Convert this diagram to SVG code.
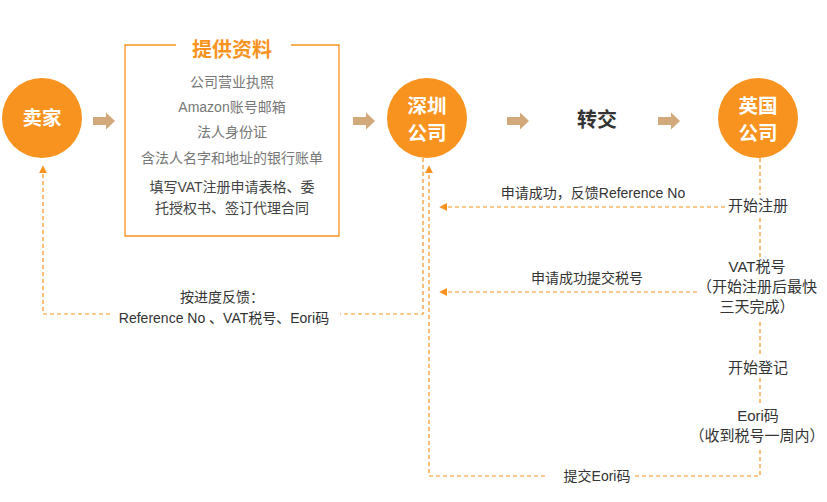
<svg xmlns="http://www.w3.org/2000/svg" width="827" height="502" viewBox="0 0 827 502">
<defs>
<style>
text{font-family:"Liberation Sans","Noto Sans CJK SC",sans-serif}
.circ{fill:#F7931E}
.ct{font-size:19.5px;font-weight:bold;fill:#fff;text-anchor:middle}
.bt{font-size:14px;fill:#777;text-anchor:middle}
.bt2{font-size:14px;fill:#444;text-anchor:middle}
.lt{font-size:14px;fill:#333;text-anchor:middle}
.rt{font-size:15px;fill:#333;text-anchor:middle}
.dash{fill:none;stroke:#F7931E;stroke-width:1.2;stroke-dasharray:4 3}
.big{fill:#D1A97A}
</style>
<marker id="ah" viewBox="0 0 10 10" refX="9" refY="5" markerWidth="8" markerHeight="8" markerUnits="userSpaceOnUse" orient="auto">
<path d="M0,0 L10,5 L0,10 z" fill="#F7931E"/>
</marker>
<path id="bigarrow" d="M0,-4 L13,-4 L13,-8.5 L22,0 L13,8.5 L13,4 L0,4 z"/>
</defs>

<g id="seller">
<circle class="circ" cx="42" cy="118" r="40"/>
<text class="ct" x="42" y="125">卖家</text>
</g>

<g id="materials">
<path d="M176,45 L125,45 L125,236 L339,236 L339,45 L291,45" fill="none" stroke="#F7931E" stroke-width="1.3"/>
<text x="232" y="57" font-size="20" font-weight="bold" fill="#F7931E" text-anchor="middle">提供资料</text>
<text class="bt" x="232" y="87">公司营业执照</text>
<text class="bt" x="232" y="112">Amazon账号邮箱</text>
<text class="bt" x="232" y="137">法人身份证</text>
<text class="bt" x="232" y="163">含法人名字和地址的银行账单</text>
<text class="bt2" x="232" y="192">填写VAT注册申请表格、委</text>
<text class="bt2" x="232" y="213">托授权书、签订代理合同</text>
</g>

<g id="shenzhen">
<circle class="circ" cx="427" cy="118" r="40"/>
<text class="ct" x="427" y="113">深圳</text>
<text class="ct" x="427" y="140">公司</text>
</g>

<g id="transfer">
<text x="597" y="127" font-size="20" font-weight="bold" fill="#333" text-anchor="middle">转交</text>
</g>

<g id="uk">
<circle class="circ" cx="758" cy="118" r="40"/>
<text class="ct" x="758" y="113">英国</text>
<text class="ct" x="758" y="140">公司</text>
</g>

<g id="uk-steps">
<text class="rt" x="758" y="211">开始注册</text>
<text class="rt" x="757" y="272">VAT税号</text>
<text class="rt" x="757" y="292">（开始注册后最快</text>
<text class="rt" x="757" y="312">三天完成）</text>
<text class="rt" x="758" y="373">开始登记</text>
<text class="rt" x="758" y="421">Eori码</text>
<text class="rt" x="757" y="441">（收到税号一周内）</text>
</g>

<g id="connectors">
<use href="#bigarrow" x="93" y="121" class="big"/>
<use href="#bigarrow" x="353" y="121" class="big"/>
<use href="#bigarrow" x="507" y="121" class="big"/>
<use href="#bigarrow" x="658" y="121" class="big"/>

<path class="dash" d="M760,158 L760,195"/>
<path class="dash" d="M760,218 L760,257"/>
<path class="dash" d="M760,322 L760,355"/>
<path class="dash" d="M760,378 L760,404"/>
<path class="dash" d="M760,450 L760,476 L632,476"/>
<path class="dash" d="M545,476 L429,476 L429,166" marker-end="url(#ah)"/>

<path class="dash" d="M725,207 L440,207" marker-end="url(#ah)"/>
<path class="dash" d="M697,292 L440,292" marker-end="url(#ah)"/>

<path class="dash" d="M423,158 L423,314 L340,314"/>
<path class="dash" d="M110,314 L43,314 L43,166" marker-end="url(#ah)"/>

<text class="lt" x="593" y="198">申请成功，反馈Reference No</text>
<text class="lt" x="587" y="283">申请成功提交税号</text>
<text class="lt" x="597" y="481">提交Eori码</text>
<text class="lt" x="222" y="302">按进度反馈：</text>
<text class="lt" x="224" y="323">Reference No 、VAT税号、Eori码</text>
</g>
</svg>
